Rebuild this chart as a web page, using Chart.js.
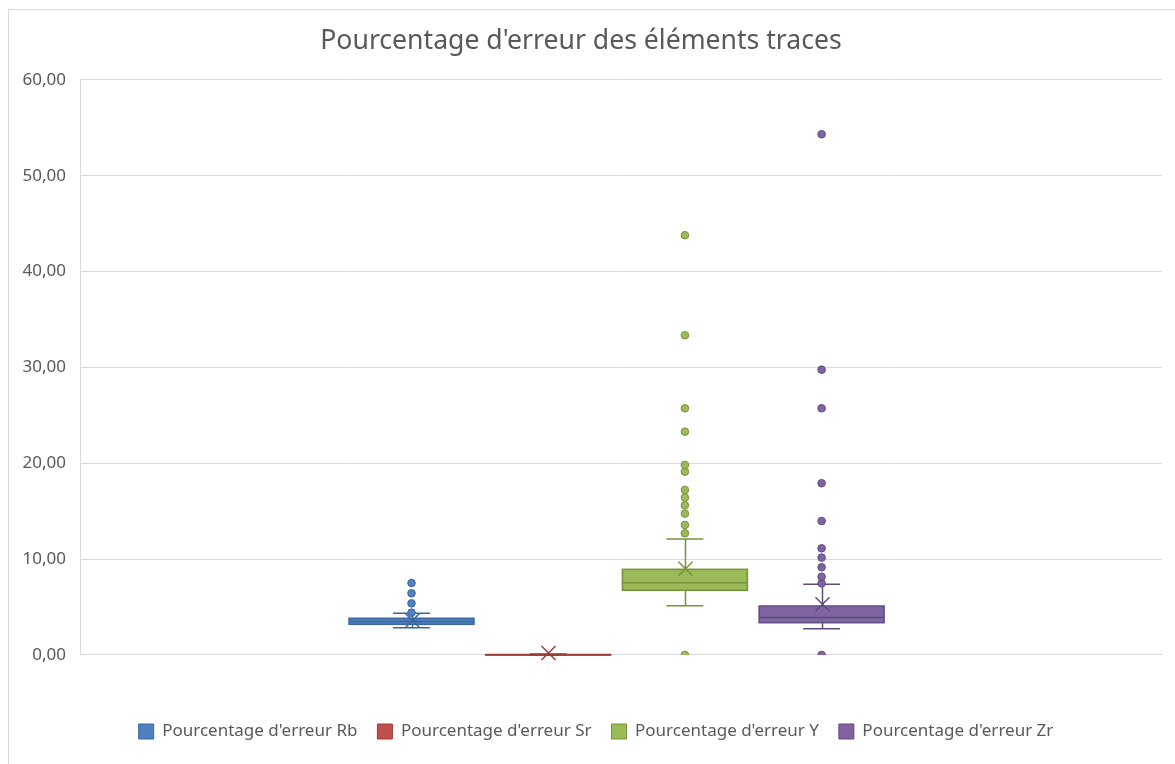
<!DOCTYPE html>
<html>
<head>
<meta charset="utf-8">
<script src="https://cdn.jsdelivr.net/npm/chart.js@4.4.1/dist/chart.umd.min.js"></script>
<style>
    html, body { margin: 0; padding: 0; background: #fff; overflow: hidden; }
    #frame { position: absolute; left: 8px; top: 9px; width: 1300px; height: 900px; border: 1px solid #d9d9d9; }
    #wrap { position: absolute; left: 0; top: 0; width: 1175px; height: 764px; }
</style>
</head>
<body>
<div id="frame"></div>
<div id="wrap"><canvas id="boxChart"></canvas></div>
<script>
// éléments et séries
const categories = ['Rb', 'Sr', 'Y', 'Zr'];
const seriesLabels = ["Pourcentage d'erreur Rb", "Pourcentage d'erreur Sr", "Pourcentage d'erreur Y", "Pourcentage d'erreur Zr"];

// statistiques des boîtes (%)
const whiskerLow  = [2.85, 0.00, 5.15, 2.75];
const q1Values    = [3.20, 0.00, 6.75, 3.37];
const medianVals  = [3.50, 0.02, 7.55, 3.90];
const q3Values    = [3.83, 0.05, 8.94, 5.11];
const whiskerHigh = [4.35, 0.10, 12.10, 7.38];
const meanValues  = [3.60, 0.20, 9.00, 5.30];

// valeurs aberrantes
const outliersRb = [4.42, 5.39, 6.44, 7.51];
const outliersSr = [];
const outliersY  = [0, 12.70, 13.57, 14.75, 15.62, 16.42, 17.22, 19.13, 19.83, 23.30, 25.74, 33.36, 43.80];
const outliersZr = [0, 7.48, 8.17, 9.15, 10.16, 11.13, 13.98, 17.92, 25.74, 29.77, 54.33];

const yTicks = [0, 10, 20, 30, 40, 50, 60];

const fillColors = ['#4f81bd', '#c0504d', '#9bbb59', '#8064a2'];
const lineColors = ['#3a67a0', '#9a3c39', '#76923c', '#5f4b7f'];

const outlierSets = [outliersRb, outliersSr, outliersY, outliersZr];

function formatNumber(v) {
    return v.toFixed(2).replace('.', ',');
}

// dessine boîtes, moustaches, médianes et moyennes avec les échelles du graphique
const boxPlugin = {
    id: 'boxes',
    afterLayout(chart) {
        // légende un peu décalée vers la droite
        chart.legend.left += 15;
        chart.legend.right += 15;
    },
    beforeDatasetsDraw(chart) {
        const ctx = chart.ctx;
        const xs = chart.scales.x;
        const ys = chart.scales.y;
        const halfBox = 0.457;
        const halfCap = 0.135;
        ctx.save();
        categories.forEach((cat, i) => {
            const pos = i + 1;
            const xc = Math.round(xs.getPixelForValue(pos)) + 0.5;
            const xl = xs.getPixelForValue(pos - halfBox);
            const xr = xs.getPixelForValue(pos + halfBox);
            const cl = xs.getPixelForValue(pos - halfCap);
            const cr = xs.getPixelForValue(pos + halfCap);
            const yLo = ys.getPixelForValue(whiskerLow[i]);
            const yHi = ys.getPixelForValue(whiskerHigh[i]);
            const yQ1 = ys.getPixelForValue(q1Values[i]);
            const yQ3 = ys.getPixelForValue(q3Values[i]);
            const yMed = ys.getPixelForValue(medianVals[i]);
            const yMean = ys.getPixelForValue(meanValues[i]);

            ctx.strokeStyle = lineColors[i];
            ctx.lineWidth = 1.5;
            // moustaches
            ctx.beginPath();
            ctx.moveTo(xc, yQ3); ctx.lineTo(xc, yHi);
            ctx.moveTo(xc, yQ1); ctx.lineTo(xc, yLo);
            ctx.moveTo(cl, yHi); ctx.lineTo(cr, yHi);
            ctx.moveTo(cl, yLo); ctx.lineTo(cr, yLo);
            ctx.stroke();

            // boîte
            ctx.fillStyle = fillColors[i];
            ctx.fillRect(xl, yQ3, xr - xl, yQ1 - yQ3);
            ctx.strokeRect(xl, yQ3, xr - xl, yQ1 - yQ3);

            // médiane
            ctx.beginPath();
            ctx.moveTo(xl, yMed); ctx.lineTo(xr, yMed);
            ctx.stroke();

            // moyenne (croix)
            const s = 7;
            ctx.beginPath();
            ctx.moveTo(xc - s, yMean - s); ctx.lineTo(xc + s, yMean + s);
            ctx.moveTo(xc - s, yMean + s); ctx.lineTo(xc + s, yMean - s);
            ctx.stroke();
        });
        ctx.restore();
    }
};

const datasets = categories.map((cat, i) => ({
    label: seriesLabels[i],
    data: outlierSets[i].map(v => ({ x: i + 1, y: v })),
    backgroundColor: fillColors[i],
    borderColor: lineColors[i],
    borderWidth: 1,
    pointRadius: 3.8,
    pointHoverRadius: 3.8,
    clip: 0
}));

const ctx = document.getElementById('boxChart').getContext('2d');
Chart.defaults.font.family = "'Noto Sans', 'Open Sans', sans-serif";
Chart.defaults.color = '#595959';

const chart = new Chart(ctx, {
    type: 'scatter',
    data: { datasets: datasets },
    options: {
        responsive: true,
        maintainAspectRatio: false,
        animation: false,
        layout: { padding: { left: 0, right: 13, top: 8, bottom: 14 } },
        plugins: {
            title: {
                display: true,
                text: "Pourcentage d'erreur des éléments traces",
                color: '#595959',
                font: { size: 26.6, weight: 'normal' },
                padding: { top: 17, bottom: 23 }
            },
            legend: {
                position: 'bottom',
                labels: {
                    boxWidth: 15,
                    boxHeight: 15,
                    padding: 20,
                    color: '#595959',
                    font: { size: 17 }
                }
            },
            tooltip: { enabled: false }
        },
        scales: {
            x: {
                type: 'linear',
                min: -1.425,
                max: 6.49,
                afterFit(scale) { scale.height = 48; },
                ticks: { display: false },
                grid: { display: false },
                border: { display: false }
            },
            y: {
                min: 0,
                max: 60,
                afterFit(scale) { scale.width = 80; },
                afterBuildTicks(scale) { scale.ticks = yTicks.map(v => ({ value: v })); },
                ticks: {
                    padding: 14,
                    color: '#595959',
                    font: { size: 17 },
                    callback: v => formatNumber(v)
                },
                grid: { color: '#d9d9d9', drawTicks: false },
                border: { display: true, color: '#d9d9d9' }
            }
        }
    },
    plugins: [boxPlugin]
});
</script>
</body>
</html>
